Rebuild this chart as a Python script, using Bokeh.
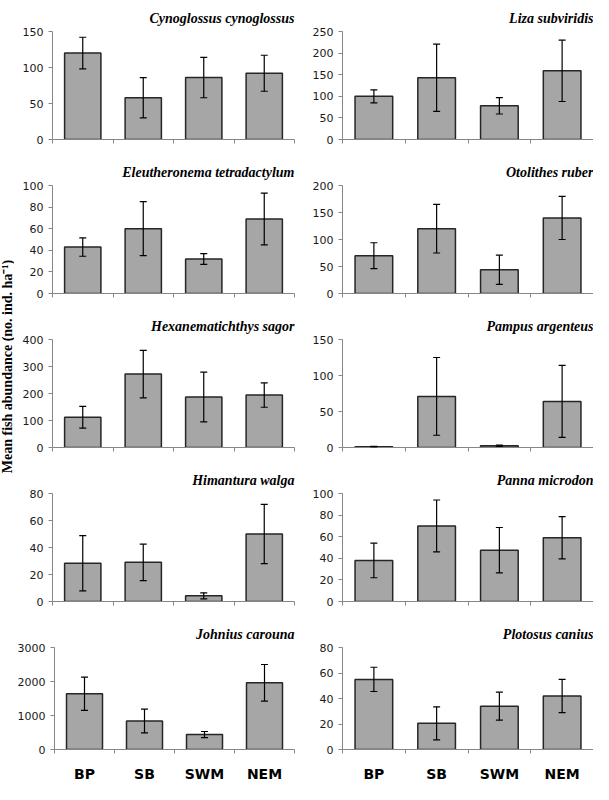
import math
from bokeh.plotting import figure
from bokeh.models import ColumnDataSource, Whisker, FixedTicker, LinearAxis, Range1d, Label, TeeHead
from bokeh.layouts import row, column
from bokeh.embed import file_html
from bokeh.resources import INLINE

seasons = ["BP", "SB", "SWM", "NEM"]

species = [
    "Cynoglossus cynoglossus", "Liza subviridis",
    "Eleutheronema tetradactylum", "Otolithes ruber",
    "Hexanematichthys sagor", "Pampus argenteus",
    "Himantura walga", "Panna microdon",
    "Johnius carouna", "Plotosus canius",
]

cynoglossus_mean = [120, 58, 86, 92]
cynoglossus_err = [22, 28, 28, 25]
liza_mean = [100, 143, 78, 159]
liza_err = [15, 78, 19, 71]
eleutheronema_mean = [43, 60, 32, 69]
eleutheronema_err = [8.5, 25, 5, 24]
otolithes_mean = [70, 120, 44, 140]
otolithes_err = [24, 45, 27, 40]
hexanematichthys_mean = [112, 272, 187, 194]
hexanematichthys_err = [40, 88, 92, 45]
pampus_mean = [1, 71, 2.5, 64]
pampus_err = [0.5, 54, 1, 50]
himantura_mean = [28.3, 29, 4.2, 50]
himantura_err = [20.5, 13.5, 2.2, 22]
panna_mean = [38, 70, 47.5, 59]
panna_err = [16, 24, 21, 19.5]
johnius_mean = [1640, 840, 440, 1960]
johnius_err = [490, 350, 90, 540]
plotosus_mean = [55, 20.5, 34, 42]
plotosus_err = [9.5, 13, 11, 13]

means = [cynoglossus_mean, liza_mean, eleutheronema_mean, otolithes_mean,
         hexanematichthys_mean, pampus_mean, himantura_mean, panna_mean,
         johnius_mean, plotosus_mean]
errs = [cynoglossus_err, liza_err, eleutheronema_err, otolithes_err,
        hexanematichthys_err, pampus_err, himantura_err, panna_err,
        johnius_err, plotosus_err]

y_max = [150, 250, 100, 200, 400, 150, 80, 100, 3000, 80]
y_step = [50, 50, 20, 50, 100, 50, 20, 20, 1000, 20]

y_label = "Mean fish abundance (no. ind. ha\u207b\u00b9)"

AXIS_COLOR = "#868686"
BAR_FILL = "#a6a6a6"
BAR_LINE = "#262626"
TICK_FONT = "DejaVu Sans"
TITLE_FONT = "Liberation Serif"

ROW_H = 154
LAST_ROW_H = 168


def make_panel(i):
    left_col = (i % 2 == 0)
    last_row = (i >= 8)
    width = 284 if left_col else 295
    height = LAST_ROW_H if last_row else ROW_H
    p = figure(width=width, height=height, output_backend="svg",
               toolbar_location=None,
               x_range=Range1d(0, 4), y_range=Range1d(0, y_max[i]),
               min_border_left=38 if left_col else 44,
               min_border_right=4 if left_col else 0,
               min_border_top=31,
               min_border_bottom=33 if last_row else 15,
               x_axis_type=None)
    p.title.text = species[i]
    p.title.text_font = TITLE_FONT
    p.title.text_font_style = "bold italic"
    p.title.text_font_size = "14px"
    p.title.align = "right"
    p.title.text_color = "#000000"
    p.title.standoff = 12
    p.outline_line_color = None
    p.xgrid.visible = False
    p.ygrid.visible = False
    p.background_fill_color = "white"
    p.border_fill_color = "white"

    # x axis: category boundaries as minor ticks, labels at centres (bottom row only)
    centres = [k + 0.5 for k in range(len(seasons))]
    bounds = [k for k in range(len(seasons) + 1)]
    xa = LinearAxis(ticker=FixedTicker(ticks=centres if last_row else [],
                                       minor_ticks=bounds))
    xa.axis_line_color = AXIS_COLOR
    xa.major_tick_line_color = None
    xa.minor_tick_line_color = AXIS_COLOR
    xa.minor_tick_out = 4
    xa.minor_tick_in = 0
    if last_row:
        xa.major_label_overrides = {c: s for c, s in zip(centres, seasons)}
        xa.major_label_text_font = TICK_FONT
        xa.major_label_text_font_style = "bold"
        xa.major_label_text_font_size = "14px"
        xa.major_label_text_color = "#000000"
        xa.major_label_standoff = 10
    p.add_layout(xa, "below")

    ya = p.yaxis[0]
    ya.ticker = FixedTicker(ticks=list(range(0, y_max[i] + 1, y_step[i])))
    ya.axis_line_color = AXIS_COLOR
    ya.major_tick_line_color = AXIS_COLOR
    ya.major_tick_out = 4
    ya.major_tick_in = 0
    ya.minor_tick_line_color = None
    ya.major_label_text_font = TICK_FONT
    ya.major_label_text_font_size = "11px"
    ya.major_label_text_color = "#1a1a1a"
    ya.major_label_standoff = 5

    m = means[i]
    e = errs[i]
    src = ColumnDataSource(dict(
        x=centres,
        top=m,
        upper=[a + b for a, b in zip(m, e)],
        lower=[a - b for a, b in zip(m, e)],
    ))
    p.vbar(x="x", top="top", bottom=0, width=0.6, source=src,
           fill_color=BAR_FILL, line_color=BAR_LINE, line_width=1.5)
    w = Whisker(base="x", upper="upper", lower="lower", source=src,
                level="overlay",
                line_color="black", line_width=1.2,
                upper_head=TeeHead(size=7, line_color="black", line_width=1.2),
                lower_head=TeeHead(size=7, line_color="black", line_width=1.2))
    p.add_layout(w)
    return p


panels = [make_panel(i) for i in range(10)]
total_h = 4 * ROW_H + LAST_ROW_H

lab = figure(width=14, height=total_h, output_backend="svg", toolbar_location=None,
             x_range=Range1d(0, 1), y_range=Range1d(0, total_h),
             min_border=0, x_axis_type=None, y_axis_type=None)
lab.outline_line_color = None
lab.xgrid.visible = False
lab.ygrid.visible = False
lab.add_layout(Label(x=0.5, y=total_h - 366, text=y_label, angle=math.pi / 2,
                     text_align="center", text_baseline="middle",
                     text_font=TITLE_FONT, text_font_style="bold",
                     text_font_size="14px", text_color="#000000"))

rows = [row(panels[2 * r], panels[2 * r + 1]) for r in range(5)]
layout = row(lab, column(*rows))

open("out.html", "w").write(file_html(layout, INLINE))
